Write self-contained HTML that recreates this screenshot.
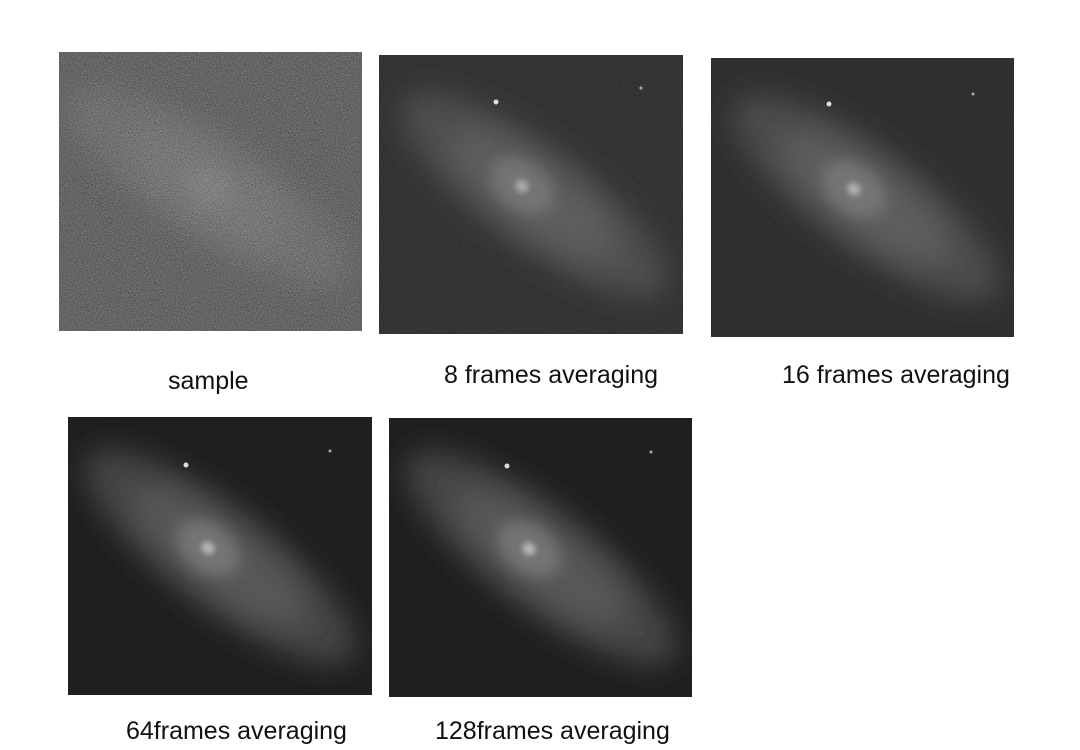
<!DOCTYPE html>
<html>
<head>
<meta charset="utf-8">
<style>
  html,body{margin:0;padding:0;background:#fff;}
  body{width:1080px;height:750px;position:relative;overflow:hidden;
       font-family:"Liberation Sans","Noto Sans CJK SC",sans-serif;}
  .panel{position:absolute;display:block;}
  .label{position:absolute;font-size:25px;color:#111;white-space:nowrap;line-height:1;}
</style>
</head>
<body>

<svg width="0" height="0" style="position:absolute">
  <defs>
    <filter id="noise" x="0" y="0" width="100%" height="100%">
      <feTurbulence type="fractalNoise" baseFrequency="1.6" numOctaves="1" seed="3"/>
      <feColorMatrix type="matrix" values="0 0 0 0 1  0 0 0 0 1  0 0 0 0 1  2.2 0 0 0 -0.9"/>
    </filter>
    <filter id="noiseD" x="0" y="0" width="100%" height="100%">
      <feTurbulence type="fractalNoise" baseFrequency="1.6" numOctaves="1" seed="7"/>
      <feColorMatrix type="matrix" values="0 0 0 0 0  0 0 0 0 0  0 0 0 0 0  2.2 0 0 0 -0.9"/>
    </filter>
    <filter id="blur8" x="-50%" y="-100%" width="200%" height="300%"><feGaussianBlur stdDeviation="14"/></filter>
    <filter id="blur4" x="-50%" y="-100%" width="200%" height="300%"><feGaussianBlur stdDeviation="7"/></filter>
    <filter id="blur2" x="-100%" y="-100%" width="300%" height="300%"><feGaussianBlur stdDeviation="3"/></filter>
  </defs>
</svg>

<!-- sample -->
<svg class="panel" style="left:59px;top:52px" width="303" height="279" viewBox="0 0 303 279">
  <rect width="303" height="279" fill="#5e5e5e"/>
  <g transform="translate(150,135) rotate(33)">
    <ellipse rx="165" ry="50" fill="#6e6e6e" filter="url(#blur8)"/>
    <ellipse rx="90" ry="32" fill="#777" filter="url(#blur8)"/>
    <ellipse rx="25" ry="20" fill="#808080" filter="url(#blur4)"/>
  </g>
  <rect width="303" height="279" filter="url(#noise)" opacity="0.55"/>
  <rect width="303" height="279" filter="url(#noiseD)" opacity="0.5"/>
</svg>
<div class="label" style="left:168px;top:369px">sample</div>

<!-- 8 frames -->
<svg class="panel" style="left:379px;top:55px" width="304" height="279" viewBox="0 0 304 279">
  <rect width="304" height="279" fill="#2e2e2e"/>
  <g transform="translate(155,140) rotate(36)">
    <ellipse rx="160" ry="50" fill="#4a4a4a" filter="url(#blur8)"/>
    <ellipse rx="100" ry="32" fill="#5a5a5a" filter="url(#blur8)"/>
    <ellipse cx="-15" rx="35" ry="24" fill="#707070" filter="url(#blur4)"/>
    <ellipse cx="-15" rx="7" ry="6" fill="#a8a8a8" filter="url(#blur2)"/>
  </g>
  <circle cx="117" cy="47" r="2.5" fill="#ddd"/><circle cx="262" cy="33" r="1.5" fill="#aaa"/>
  <rect width="304" height="279" filter="url(#noise)" opacity="0.12"/>
</svg>
<div class="label" style="left:444px;top:363px">8 frames averaging</div>

<!-- 16 frames -->
<svg class="panel" style="left:711px;top:58px" width="303" height="279" viewBox="0 0 303 279">
  <rect width="303" height="279" fill="#2c2c2c"/>
  <g transform="translate(155,140) rotate(36)">
    <ellipse rx="160" ry="50" fill="#4a4a4a" filter="url(#blur8)"/>
    <ellipse rx="100" ry="32" fill="#5c5c5c" filter="url(#blur8)"/>
    <ellipse cx="-15" rx="35" ry="24" fill="#727272" filter="url(#blur4)"/>
    <ellipse cx="-15" rx="7" ry="6" fill="#b0b0b0" filter="url(#blur2)"/>
  </g>
  <circle cx="118" cy="46" r="2.5" fill="#ddd"/><circle cx="262" cy="36" r="1.5" fill="#aaa"/>
  <rect width="303" height="279" filter="url(#noise)" opacity="0.08"/>
</svg>
<div class="label" style="left:782px;top:363px">16 frames averaging</div>

<!-- 64 frames -->
<svg class="panel" style="left:68px;top:417px" width="304" height="278" viewBox="0 0 304 278">
  <rect width="304" height="278" fill="#1f1f1f"/>
  <g transform="translate(152,140) rotate(37)">
    <ellipse rx="165" ry="50" fill="#444" filter="url(#blur8)"/>
    <ellipse rx="105" ry="32" fill="#585858" filter="url(#blur8)"/>
    <ellipse cx="-15" rx="35" ry="24" fill="#737373" filter="url(#blur4)"/>
    <ellipse cx="-15" rx="7" ry="6" fill="#b8b8b8" filter="url(#blur2)"/>
  </g>
  <circle cx="118" cy="48" r="2.5" fill="#ddd"/><circle cx="262" cy="34" r="1.5" fill="#aaa"/>
</svg>
<div class="label" style="left:126px;top:719px">64frames averaging</div>

<!-- 128 frames -->
<svg class="panel" style="left:389px;top:418px" width="303" height="279" viewBox="0 0 303 279">
  <rect width="303" height="279" fill="#1f1f1f"/>
  <g transform="translate(152,140) rotate(37)">
    <ellipse rx="165" ry="50" fill="#444" filter="url(#blur8)"/>
    <ellipse rx="105" ry="32" fill="#585858" filter="url(#blur8)"/>
    <ellipse cx="-15" rx="35" ry="24" fill="#737373" filter="url(#blur4)"/>
    <ellipse cx="-15" rx="7" ry="6" fill="#b8b8b8" filter="url(#blur2)"/>
  </g>
  <circle cx="118" cy="48" r="2.5" fill="#ddd"/><circle cx="262" cy="34" r="1.5" fill="#aaa"/>
</svg>
<div class="label" style="left:435px;top:719px">128frames averaging</div>

</body>
</html>
